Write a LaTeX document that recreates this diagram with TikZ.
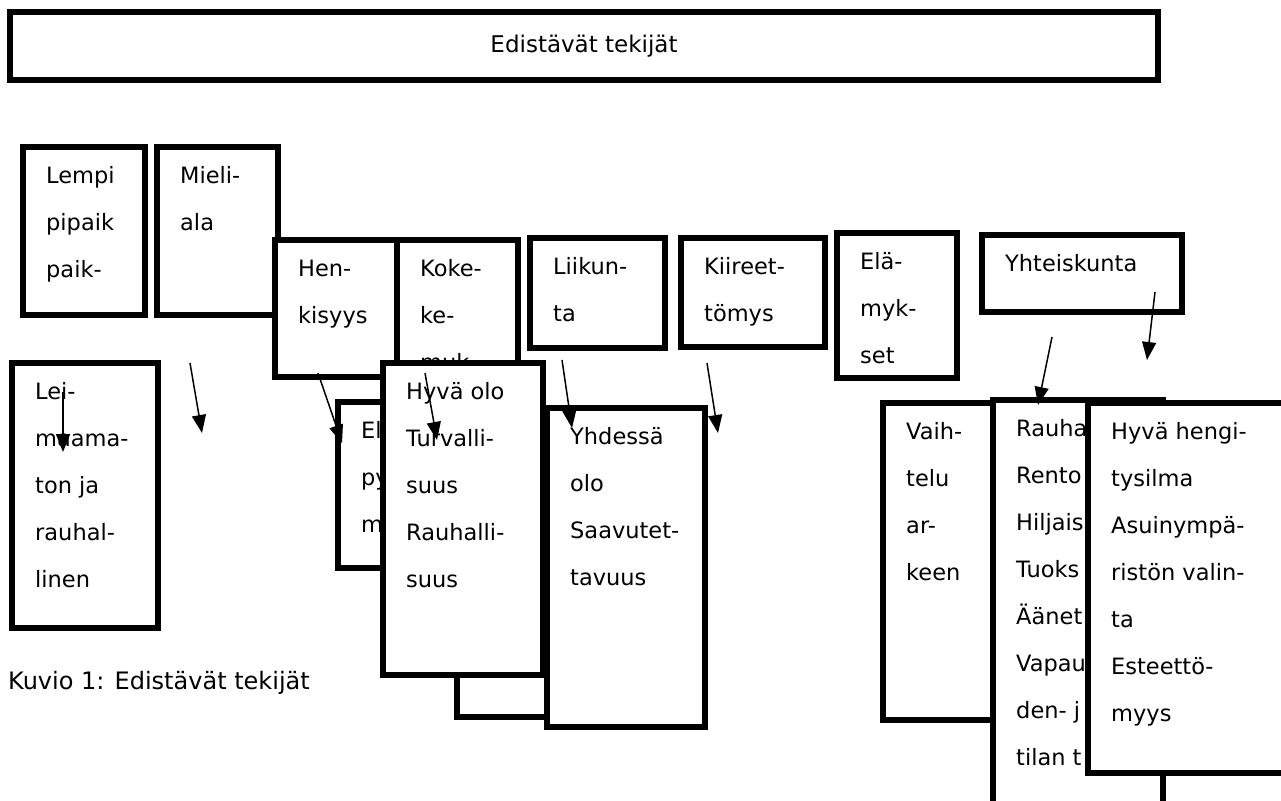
\documentclass[tikz,border=0pt]{standalone}
\usepackage{fontspec}
\setmainfont{DejaVu Sans}
\usepackage{tikz}
\usetikzlibrary{arrows.meta, calc}

% box with its lines of text: name, x, y, width, height, lines
\newcommand{\laatikko}[6]{%
  \node[laatikko, minimum width=#4pt, minimum height=#5pt] (#1) at (#2,#3) {};
  \foreach \rivi [count=\i] in {#6} {
    \node[teksti] (#1-\i) at ($(#1.north west)+(23,36+47*\i-47)$) {\rivi};
  }%
}

\begin{document}
\begin{tikzpicture}[x=1pt, y=-1pt,
    laatikko/.style={draw, fill=white, line width=5.5pt, rectangle, inner sep=0pt, outer sep=0pt, anchor=north west},
    teksti/.style={anchor=base west, inner sep=0pt, font=\fontsize{22.5}{27}\selectfont},
    nuoli/.style={line width=1.5pt, -{Triangle[length=18pt,width=14pt]}}]
  \useasboundingbox (0,0) rectangle (1281,800);

  % Title
  \node[laatikko, minimum width=1148pt, minimum height=68pt, font=\fontsize{23}{27}\selectfont] (otsikko) at (10,12) {Edistävät tekijät};

  % Upper row
  \laatikko{lempi}{23}{147}{122}{168}{Lempi,pipaik,paik-}
  \laatikko{mieli}{157}{147}{121}{168}{Mieli-,ala}
  \laatikko{henkisyys}{275}{240}{123}{137}{Hen-,kisyys}
  \laatikko{kokemukset}{397}{240}{121}{260}{Koke-,ke-,muk-}
  \laatikko{liikunta}{530}{238}{135}{110}{Liikun-,ta}
  \laatikko{kiireet}{681}{238}{144}{109}{Kiireet-,tömys}
  \laatikko{elamykset}{837}{233}{120}{145}{Elä-,myk-,set}
  \laatikko{yhteiskunta}{982}{235}{200}{77}{Yhteiskunta}

  % Lower row
  \laatikko{leimaamaton}{12}{363}{146}{265}{Lei-,maama-,ton ja,rauhal-,linen}
  \laatikko{elpy}{338}{402}{90}{166}{El,py,m}
  \node[laatikko, minimum width=91pt, minimum height=157pt] (alalaatikko) at (457,560) {};
  \laatikko{hyvaolo}{383}{363}{160}{312}{Hyvä olo,Turvalli-,suus,Rauhalli-,suus}
  \laatikko{yhdessa}{547}{408}{158}{319}{Yhdessä,olo,Saavutet-,tavuus}
  \laatikko{vaihtelu}{883}{403}{117}{317}{Vaih-,telu,ar-,keen}
  \laatikko{rauha}{993}{400}{170}{430}{Rauha,Rento,Hiljais,Tuoks,Äänet,Vapau,den- j,tilan t}
  \laatikko{ilmapiiri}{1088}{403}{220}{370}{Hyvä hengi-,tysilma,Asuinympä-,ristön valin-,ta,Esteettö-,myys}

  % Caption
  \node[teksti, font=\fontsize{24}{28}\selectfont] (kuvio) at (8,689) {Kuvio 1: Edistävät tekijät};

  % Arrows
  \coordinate (lempi-alku) at (63,392);      \coordinate (lempi-loppu) at (63,452);
  \coordinate (mieli-alku) at (190,363);     \coordinate (mieli-loppu) at (202,433);
  \coordinate (henki-alku) at (318,373);     \coordinate (henki-loppu) at (342,443);
  \coordinate (koke-alku) at (425,373);      \coordinate (koke-loppu) at (437,440);
  \coordinate (liikunta-alku) at (562,360);  \coordinate (liikunta-loppu) at (572,428);
  \coordinate (kiire-alku) at (707,363);     \coordinate (kiire-loppu) at (718,433);
  \coordinate (yhteis1-alku) at (1052,337);  \coordinate (yhteis1-loppu) at (1038,405);
  \coordinate (yhteis2-alku) at (1155,292);  \coordinate (yhteis2-loppu) at (1147,360);
  \foreach \n in {lempi,mieli,henki,koke,liikunta,kiire,yhteis1,yhteis2} {
    \draw[nuoli] (\n-alku) -- (\n-loppu);
  }
\end{tikzpicture}
\end{document}
